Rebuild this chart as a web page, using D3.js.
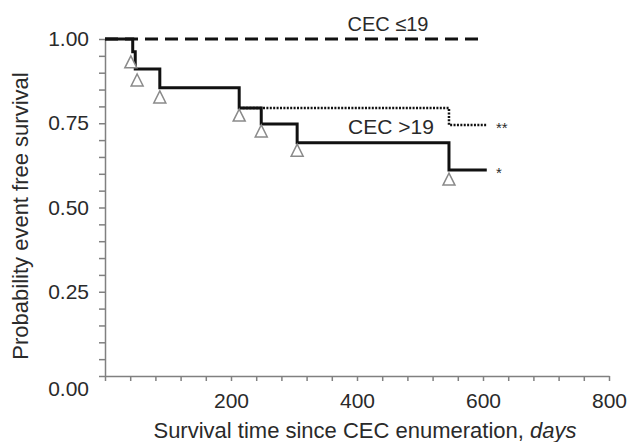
<!DOCTYPE html>
<html>
<head>
<meta charset="utf-8">
<script src="https://cdn.jsdelivr.net/npm/d3@7"></script>
<style>
body { margin: 0; background: #fff; }
text { font-family: "Liberation Sans", Arial, sans-serif; fill: #2a2a2a; }
.axis path, .axis line { stroke: #808080; stroke-width: 1.5; }
</style>
</head>
<body>
<script>
// Kaplan-Meier steps [days, survival]
var high = [[0,1],[44,0.962],[48,0.911],[87,0.855],[213,0.795],[248,0.748],[305,0.692],[546,0.611],[606,0.611]];
var other = [[213,0.795],[546,0.745],[606,0.745]];
var low = [[0,1],[602,1]];
// censored marks (triangles)
var censored = [[41,0.953],[51,0.899],[87,0.849],[213,0.795],[248,0.748],[305,0.691],[546,0.605]];

var xTicks = d3.range(0, 801, 40), xLabels = [200, 400, 600, 800];
var yTicks = d3.range(0, 21).map(function(i) { return i * 0.05; }), yLabels = [0, 0.25, 0.5, 0.75, 1];

var width = 627, height = 442;
var x = d3.scaleLinear().domain([0, 800]).range([105, 609]);
var y = d3.scaleLinear().domain([0, 1]).range([376, 39]);

var svg = d3.select('body').append('svg')
  .attr('width', width)
  .attr('height', height);

// x axis
var xAxis = d3.axisBottom(x)
  .tickValues(xTicks)
  .tickSize(5).tickSizeOuter(0).tickPadding(12)
  .tickFormat(function(d) { return xLabels.indexOf(d) >= 0 ? d : ''; });
var gx = svg.append('g').attr('class', 'axis')
  .attr('transform', 'translate(0,' + y(0) + ')')
  .call(xAxis);
gx.selectAll('text').style('font-size', '21px').style('fill', '#2a2a2a');

// y axis
var isMajor = function(d) { return yLabels.some(function(v) { return Math.abs(v - d) < 1e-6; }); };
var yAxis = d3.axisLeft(y)
  .tickValues(yTicks)
  .tickSize(6).tickSizeOuter(0).tickPadding(10)
  .tickFormat(function(d) { return isMajor(d) ? d3.format('.2f')(d) : ''; });
var gy = svg.append('g').attr('class', 'axis')
  .attr('transform', 'translate(' + x(0) + ',0)')
  .call(yAxis);
gy.selectAll('text').style('font-size', '21px').style('fill', '#2a2a2a')
  .attr('dy', function(d) { return d === 0 ? '0.95em' : '0.32em'; });

// axis titles
var xt = svg.append('text')
  .attr('x', 365).attr('y', 438)
  .attr('text-anchor', 'middle')
  .style('font-size', '22px')
  .text('Survival time since CEC enumeration, ');
xt.append('tspan').style('font-style', 'italic').text('days');

svg.append('text')
  .attr('transform', 'translate(28,216) rotate(-90)')
  .attr('text-anchor', 'middle')
  .style('font-size', '22px')
  .text('Probability event free survival');

// curves
var line = d3.line()
  .x(function(d) { return x(d[0]); })
  .y(function(d) { return y(d[1]); })
  .curve(d3.curveStepAfter);

svg.append('path').datum(low)
  .attr('d', line)
  .attr('fill', 'none').attr('stroke', '#111')
  .attr('stroke-width', 3).attr('stroke-dasharray', '13,7');

svg.append('path').datum(other)
  .attr('d', line)
  .attr('fill', 'none').attr('stroke', '#111')
  .attr('stroke-width', 2.5).attr('stroke-dasharray', '2,1.4');

svg.append('path').datum(high)
  .attr('d', line)
  .attr('fill', 'none').attr('stroke', '#111')
  .attr('stroke-width', 3);

// censor triangles
svg.selectAll('.cens')
  .data(censored)
  .enter().append('path')
  .attr('class', 'cens')
  .attr('transform', function(d) { return 'translate(' + x(d[0]) + ',' + (y(d[1]) + 1) + ')'; })
  .attr('d', 'M0,0 L6,12 L-6,12 Z')
  .attr('fill', '#fff').attr('stroke', '#8a8a8a').attr('stroke-width', 1.5);

// labels
svg.append('text').attr('x', 388).attr('y', 31)
  .attr('text-anchor', 'middle').style('font-size', '20px').text('CEC \u226419');
svg.append('text').attr('x', 391).attr('y', 134)
  .attr('text-anchor', 'middle').style('font-size', '21px').text('CEC >19');
svg.append('text').attr('x', 496).attr('y', 133)
  .style('font-size', '15px').text('**');
svg.append('text').attr('x', 496).attr('y', 178)
  .style('font-size', '15px').text('*');
</script>
</body>
</html>
